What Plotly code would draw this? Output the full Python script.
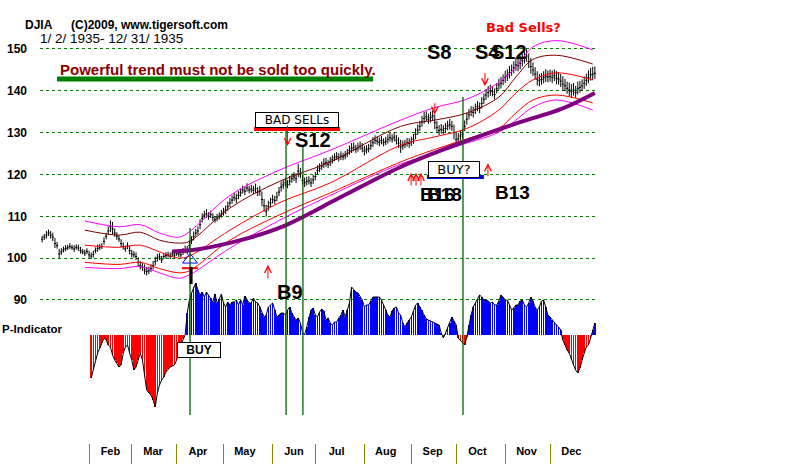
import plotly.graph_objects as go
import pandas as pd

start_date = "1935-01-02"

# ---- daily DJIA closes (Mon-Fri rows) ----
close_weeks = [
    [104.5, 105.0, 105.5],
    [106.0, 105.5, 105.0, 103.5, 103.0],
    [101.0, 101.5, 102.0, 102.3, 102.5],
    [102.8, 102.5, 102.2, 102.6, 102.4],
    [101.8, 101.5, 101.2, 101.6, 100.8],
    [100.5, 100.9, 101.8, 102.3, 102.6],
    [102.8, 104.0, 105.2, 106.5, 107.5],
    [107.0, 106.0, 105.2, 104.6, 103.5],
    [102.8, 102.2, 102.9, 101.8, 101.0],
    [100.8, 100.4, 99.0, 98.2, 97.8],
    [97.2, 96.8, 97.0, 97.5, 98.2],
    [99.2, 100.0, 100.3, 99.6, 100.4],
    [100.6, 100.8, 100.5, 101.0, 100.7],
    [101.2, 101.0, 100.8, 101.5, 102.0],
    [101.8, 103.0, 104.2, 105.2, 106.0],
    [106.5, 108.0, 109.5, 110.3, 110.6],
    [110.0, 110.4, 109.7, 109.2, 109.6],
    [110.0, 110.5, 111.0, 111.5, 112.3],
    [113.2, 113.9, 114.5, 114.2, 115.0],
    [115.6, 116.3, 116.0, 116.8, 116.3],
    [116.5, 116.2, 116.6, 115.8, 116.0],
    [114.0, 112.5, 111.2, 112.4, 113.2],
    [114.0, 113.8, 114.6, 115.8, 117.0],
    [117.5, 118.0, 117.6, 118.4, 119.0],
    [119.4, 119.0, 120.8, 120.2, 118.6],
    [118.0, 118.3, 118.5, 118.0, 118.7],
    [119.5, 121.0, 121.5, 122.0, 122.6],
    [122.8, 122.4, 123.0, 123.5, 124.0],
    [124.3, 124.0, 124.4, 124.2, 124.5],
    [125.0, 125.7, 126.2, 126.5, 126.0],
    [126.4, 126.8, 126.3, 125.6, 125.9],
    [126.2, 126.9, 127.6, 128.2, 128.0],
    [127.7, 128.1, 127.6, 127.9, 128.4],
    [128.8, 128.5, 128.9, 128.2, 127.5],
    [126.6, 126.9, 127.2, 127.6, 127.4],
    [127.8, 128.4, 129.6, 130.6, 131.5],
    [132.6, 133.4, 133.8, 133.2, 133.6],
    [134.0, 132.4, 131.2, 130.5, 130.8],
    [130.6, 131.0, 131.6, 131.9, 131.5],
    [130.0, 128.3, 128.5, 129.2, 129.6],
    [131.5, 133.2, 134.3, 135.0, 134.8],
    [135.6, 136.2, 135.8, 137.0, 138.0],
    [139.0, 139.6, 140.0, 139.8, 139.1],
    [140.5, 141.4, 141.8, 142.5, 143.2],
    [143.6, 144.3, 144.8, 145.5, 146.2],
    [146.0, 146.6, 147.2, 148.0, 148.3],
    [147.0, 145.8, 145.0, 144.0, 142.8],
    [142.4, 142.7, 143.1, 143.5, 143.3],
    [143.5, 143.2, 143.6, 143.0, 142.8],
    [142.3, 141.6, 141.2, 140.6, 140.2],
    [139.8, 140.2, 139.6, 140.5, 140.8],
    [141.2, 141.8, 142.5, 143.2, 143.8],
    [144.0, 144.2],
]

# daily high-low range of each bar
range_weeks = [
    [1.6, 1.4, 1.8],
    [1.5, 1.8, 2.0, 2.4, 1.6],
    [2.2, 1.6, 1.4, 1.5, 1.3],
    [1.4, 1.2, 1.6, 1.3, 1.5],
    [1.6, 1.3, 1.5, 1.4, 1.8],
    [1.5, 1.6, 1.4, 1.7, 1.5],
    [1.4, 1.8, 1.6, 2.0, 2.8],
    [3.0, 2.0, 1.8, 1.6, 1.9],
    [1.7, 1.5, 1.6, 2.0, 1.8],
    [1.6, 1.8, 2.2, 2.0, 1.9],
    [2.4, 2.1, 1.8, 1.9, 2.0],
    [2.1, 1.8, 1.6, 1.7, 1.5],
    [1.5, 1.4, 1.6, 1.5, 1.4],
    [1.4, 1.6, 1.5, 1.7, 1.8],
    [2.0, 2.2, 1.9, 2.1, 1.8],
    [2.0, 2.3, 2.2, 1.9, 2.1],
    [1.8, 1.7, 1.9, 1.6, 1.8],
    [1.7, 1.8, 1.9, 2.0, 2.2],
    [2.1, 2.0, 1.9, 2.2, 2.0],
    [2.0, 1.9, 2.1, 2.0, 1.8],
    [1.9, 2.0, 2.2, 2.1, 2.4],
    [3.5, 3.0, 2.8, 2.4, 2.2],
    [2.1, 2.0, 2.3, 2.2, 2.4],
    [2.2, 2.1, 2.0, 2.3, 2.2],
    [2.1, 2.4, 3.2, 2.5, 2.6],
    [2.3, 2.1, 2.0, 2.2, 2.1],
    [2.0, 2.2, 2.1, 2.0, 2.3],
    [2.1, 2.0, 2.2, 2.0, 1.9],
    [1.9, 2.0, 2.1, 1.8, 2.0],
    [2.0, 2.2, 2.4, 2.1, 2.0],
    [2.1, 2.0, 2.2, 2.3, 2.0],
    [2.0, 2.2, 2.4, 2.1, 2.0],
    [2.1, 2.0, 1.9, 2.0, 2.2],
    [2.1, 2.0, 2.2, 2.3, 2.5],
    [3.2, 2.2, 2.0, 2.1, 2.3],
    [2.2, 2.4, 2.6, 2.5, 2.4],
    [2.6, 2.8, 2.4, 2.5, 2.6],
    [2.4, 3.5, 2.8, 2.4, 2.3],
    [2.2, 2.4, 2.3, 2.5, 2.4],
    [3.5, 3.0, 2.6, 2.4, 2.5],
    [2.6, 2.8, 2.5, 2.4, 2.6],
    [2.5, 2.4, 2.6, 2.7, 2.5],
    [2.6, 2.8, 2.7, 2.5, 2.6],
    [2.5, 2.7, 2.8, 2.6, 2.9],
    [2.8, 3.0, 2.7, 2.9, 3.1],
    [3.0, 3.2, 3.1, 3.3, 3.0],
    [3.5, 3.8, 3.2, 3.0, 3.4],
    [3.0, 2.8, 2.9, 3.1, 2.8],
    [2.9, 3.0, 2.8, 3.2, 3.0],
    [3.1, 3.4, 3.0, 2.9, 3.2],
    [3.3, 3.0, 2.9, 3.1, 2.8],
    [2.8, 3.0, 2.9, 3.1, 3.0],
    [3.2, 3.0],
]

# P-Indicator (arbitrary units), None before it starts
p_weeks = [
    [None, None, None],
    [None, None, None, None, None],
    [None, None, None, None, None],
    [None, None, None, None, None],
    [None, None, None, None, None],
    [-43, -35, -25, -18, -13],
    [-8, -3, -5, -10, -12],
    [-20, -25, -28, -32, -30],
    [-18, -12, -10, -18, -25],
    [-35, -32, -25, -18, -25],
    [-42, -55, -58, -60, -65],
    [-72, -58, -50, -45, -42],
    [-37, -34, -32, -31, -30],
    [-25, -20, -10, -4, 0],
    [22, 35, 42, 48, 52],
    [45, 40, 43, 38, 43],
    [40, 37, 33, 41, 32],
    [36, 41, 32, 28, 33],
    [30, 33, 33, 35, 30],
    [35, 30, 39, 35, 32],
    [32, 37, 33, 32, 28],
    [22, 18, 20, 28, 30],
    [32, 25, 18, 20, 22],
    [22, 20, 25, 28, 22],
    [18, 15, 17, 12, 3],
    [0, 8, 18, 25, 27],
    [20, 18, 23, 26, 24],
    [15, 17, 12, 10, 13],
    [13, 17, 20, 25, 18],
    [25, 32, 48, 45, 43],
    [42, 38, 35, 28, 30],
    [30, 34, 38, 38, 38],
    [38, 35, 30, 25, 20],
    [18, 24, 27, 28, 22],
    [20, 12, 8, 12, 15],
    [18, 24, 30, 32, 28],
    [25, 20, 16, 15, 14],
    [13, 12, 11, 10, 2],
    [-3, 2, 7, 12, 18],
    [14, 10, -3, -5, -8],
    [-10, -2, 10, 20, 28],
    [32, 36, 40, 38, 35],
    [35, 34, 32, 33, 30],
    [30, 34, 40, 38, 35],
    [35, 30, 25, 27, 30],
    [30, 34, 35, 30, 28],
    [32, 38, 34, 28, 25],
    [28, 34, 35, 28, 20],
    [18, 15, 13, 10, 8],
    [5, -5, -10, -15, -18],
    [-25, -30, -35, -38, -33],
    [-25, -18, -12, -10, -3],
    [5, 12],
]

# ---- band lines, sampled at trading-day positions ----
band_idx = [20, 36, 46, 55, 64, 69, 88, 111, 135, 168, 184, 199, 214, 222, 230, 241, 258]
band_mag_up = [108.9, 107.5, 108.0, 106.0, 105.0, 106.3, 115.0, 121.0, 125.8, 133.0, 136.0, 138.0, 142.0, 145.7, 150.5, 152.0, 149.8]
band_maroon = [106.7, 105.5, 106.2, 104.3, 103.6, 104.0, 112.0, 118.3, 123.0, 131.5, 133.0, 134.7, 138.5, 143.3, 147.5, 148.5, 146.4]
band_red_mid = [103.1, 102.6, 103.1, 101.5, 100.0, 100.5, 106.7, 113.2, 118.0, 127.0, 129.0, 131.0, 135.4, 139.5, 142.6, 144.3, 142.6]
band_red_low = [99.0, 98.5, 99.0, 97.5, 96.5, 97.0, 104.3, 110.3, 115.6, 123.0, 126.0, 128.5, 131.0, 134.7, 137.8, 139.0, 137.1]
band_mag_low = [97.8, 97.5, 98.0, 96.5, 95.2, 96.0, 102.4, 109.0, 115.0, 122.5, 125.0, 127.5, 130.1, 133.0, 136.1, 137.8, 135.4]
ma_idx = [61, 74, 93, 112, 140, 168, 196, 224, 243, 259]
ma_long = [101.6, 102.2, 104.3, 107.4, 114.6, 121.8, 127.5, 132.5, 135.6, 139.5]

month_names = ["Feb", "Mar", "Apr", "May", "Jun", "Jul", "Aug", "Sep", "Oct", "Nov", "Dec"]
y_ticks = [90, 100, 110, 120, 130, 140, 150]

# ---- signal lines (trading-day index, top price) ----
signal_idx = [69.3, 114.3, 122.2, 197.2]
signal_top = [107.2, 131.1, 126.6, 138.5]
signal_bottom = 62.5

# ---------------------------------------------------------------
close = [v for wk in close_weeks for v in wk]
rng = [v for wk in range_weeks for v in wk]
pind = [v for wk in p_weeks for v in wk]
n = len(close)
idx = list(range(n))
dates = pd.bdate_range(start_date, periods=n)
high = [c + 0.55 * r for c, r in zip(close, rng)]
low = [c - 0.45 * r for c, r in zip(close, rng)]

month_start = []
for m in range(2, 13):
    month_start.append(next(i for i, d in enumerate(dates) if d.month == m))
label_pos = [s + 10 for s in month_start]

fig = go.Figure()

def band(y, color, width=1, x=band_idx):
    fig.add_trace(go.Scatter(x=x, y=y, mode="lines",
                             line=dict(color=color, width=width, shape="spline", smoothing=1.0),
                             hoverinfo="skip"))

band(band_mag_up, "#FF00FF")
band(band_maroon, "#800000")
band(band_red_mid, "#FF0000")
band(band_red_low, "#FF0000")
band(band_mag_low, "#FF00FF")
band(ma_long, "#800080", 4, ma_idx)

fig.add_trace(go.Ohlc(x=idx, open=close, high=high, low=low, close=close,
                      increasing=dict(line=dict(color="black", width=1)),
                      decreasing=dict(line=dict(color="black", width=1)),
                      tickwidth=0.5, hoverinfo="skip"))

p_idx = [i for i, v in zip(idx, pind) if v is not None]
p_val = [v for v in pind if v is not None]
p_col = ["#0000FF" if v >= 0 else "#FF0000" for v in p_val]
fig.add_trace(go.Bar(x=p_idx, y=p_val, width=0.3, marker=dict(color=p_col, line=dict(width=0)),
                     yaxis="y2", hoverinfo="skip"))
fig.add_trace(go.Scatter(x=p_idx, y=p_val, mode="lines", line=dict(color="black", width=1),
                         yaxis="y2", hoverinfo="skip"))

# buy marker at April signal
fig.add_trace(go.Scatter(x=[69.3], y=[99.6], mode="markers",
                         marker=dict(symbol="triangle-up-open", size=13, color="#0000FF", line=dict(width=1)),
                         hoverinfo="skip"))

shapes = []
for xi, yt in zip(signal_idx, signal_top):
    shapes.append(dict(type="line", xref="x", yref="y", x0=xi, x1=xi, y0=yt, y1=signal_bottom,
                       line=dict(color="#006400", width=1.3)))
# red tick and black bar at April buy
shapes.append(dict(type="line", xref="x", yref="y", x0=65.5, x1=73.0, y0=97.6, y1=97.6,
                   line=dict(color="#FF0000", width=2)))
shapes.append(dict(type="line", xref="x", yref="y", x0=69.8, x1=69.8, y0=97.9, y1=93.8,
                   line=dict(color="black", width=3)))
# underlines
shapes.append(dict(type="line", xref="paper", yref="paper", x0=0.0305, x1=0.5979, y0=0.8217, y1=0.8217,
                   line=dict(color="#008000", width=5)))
shapes.append(dict(type="line", xref="x", yref="y", x0=99.3, x1=139.6, y0=130.9, y1=130.9,
                   line=dict(color="#FF0000", width=4)))
shapes.append(dict(type="line", xref="x", yref="y", x0=180.3, x1=207.0, y0=119.4, y1=119.4,
                   line=dict(color="#0000FF", width=4)))

BF = "Liberation Sans"
ann = []
def txt(x, y, s, size, color="black", xref="x", yref="y", xanchor="left", bold=True, family=BF, **kw):
    ann.append(dict(x=x, y=y, xref=xref, yref=yref, text=s, showarrow=False, xanchor=xanchor,
                    yanchor="middle", font=dict(family=family, size=size, color=color,
                                                weight="bold" if bold else "normal"), **kw))

txt(-0.0305, 0.9436, "DJIA", 12, xref="paper", yref="paper")
txt(0.0521, 0.9436, "(C)2009, www.tigersoft.com", 12, xref="paper", yref="paper")
txt(-0.0036, 0.9142, "1/ 2/ 1935- 12/ 31/ 1935", 13.5, xref="paper", yref="paper", bold=False)
txt(0.0323, 0.8442, "Powerful trend must not be sold too quickly.", 15, color="#8B0000",
    xref="paper", yref="paper")
txt(0.797, 0.9368, "Bad Sells?", 13, color="#FF0000", xref="paper", yref="paper", family="DejaVu Sans")
txt(-0.0718, 0.2573, "P-Indicator", 11.5, xref="paper", yref="paper")
txt(0.6912, 0.8826, "S8", 20, xref="paper", yref="paper")
txt(0.7774, 0.8826, "S4", 20, xref="paper", yref="paper")
txt(0.8062, 0.8826, "S12", 20, xref="paper", yref="paper")
txt(117.6, 128.2, "S12", 20)
txt(109.1, 91.9, "B9", 20)
txt(176.1, 115.1, "B16", 19)
txt(179.4, 115.1, "B18", 19)
txt(211.3, 115.6, "B13", 19)
ann.append(dict(x=119.4, y=133.0, xref="x", yref="y", text="BAD SELLs", showarrow=False,
                font=dict(family="DejaVu Sans", size=12, color="black"), bgcolor="white",
                bordercolor="black", borderwidth=1, borderpad=0, width=82))
ann.append(dict(x=193.0, y=121.1, xref="x", yref="y", text="BUY?", showarrow=False,
                font=dict(family="DejaVu Sans", size=13, color="black"), bgcolor="white",
                bordercolor="black", borderwidth=1, borderpad=0, width=50))
ann.append(dict(x=73.5, y=78.0, xref="x", yref="y", text="<b>BUY</b>", showarrow=False,
                font=dict(family=BF, size=12, color="black"), bgcolor="white",
                bordercolor="black", borderwidth=1, borderpad=0, width=42))

def arrow(x, y_tail, y_head):
    ann.append(dict(x=x, y=y_head, ax=x, ay=y_tail, xref="x", yref="y", axref="x", ayref="y",
                    text="", showarrow=True, arrowhead=5, arrowsize=1.3, arrowwidth=1,
                    arrowcolor="#FF0000"))

arrow(207.5, 144.6, 141.1)   # S4/S12 down arrow
arrow(184.0, 137.4, 134.3)   # S8 down arrow
arrow(115.0, 132.1, 126.8)   # S12 down arrow
arrow(105.8, 94.8, 98.4)     # B9 up
arrow(172.9, 117.0, 120.4)
arrow(175.2, 117.0, 120.4)
arrow(177.5, 117.0, 120.4)
arrow(208.9, 119.2, 122.7)   # B13 up

fig.update_layout(
    width=800, height=466,
    margin=dict(l=40, r=203, t=0, b=23),
    paper_bgcolor="white", plot_bgcolor="white",
    showlegend=False, bargap=0,
    shapes=shapes, annotations=ann,
    xaxis=dict(range=[-1, 260], showgrid=False, zeroline=False, showline=False,
               rangeslider=dict(visible=False),
               tickmode="array", tickvals=label_pos,
               ticktext=["<b>%s</b>" % m for m in month_names], ticks="",
               tickfont=dict(family=BF, size=11, color="black"),
               minor=dict(tickmode="array", tickvals=month_start, ticks="outside",
                          ticklen=20, tickcolor="#8B8B00", tickwidth=1, showgrid=False)),
    yaxis=dict(range=[55.81, 161.71], tickmode="array", tickvals=y_ticks,
               ticktext=["<b>%d</b>" % v for v in y_ticks], ticks="",
               tickfont=dict(family=BF, size=12, color="black"),
               ticklabelstandoff=12,
               showgrid=True, gridcolor="#008000", griddash="dot", gridwidth=1,
               zeroline=False, showline=False),
    yaxis2=dict(range=[-108, 335], overlaying="y", visible=False),
)

fig.write_html("out.html")
